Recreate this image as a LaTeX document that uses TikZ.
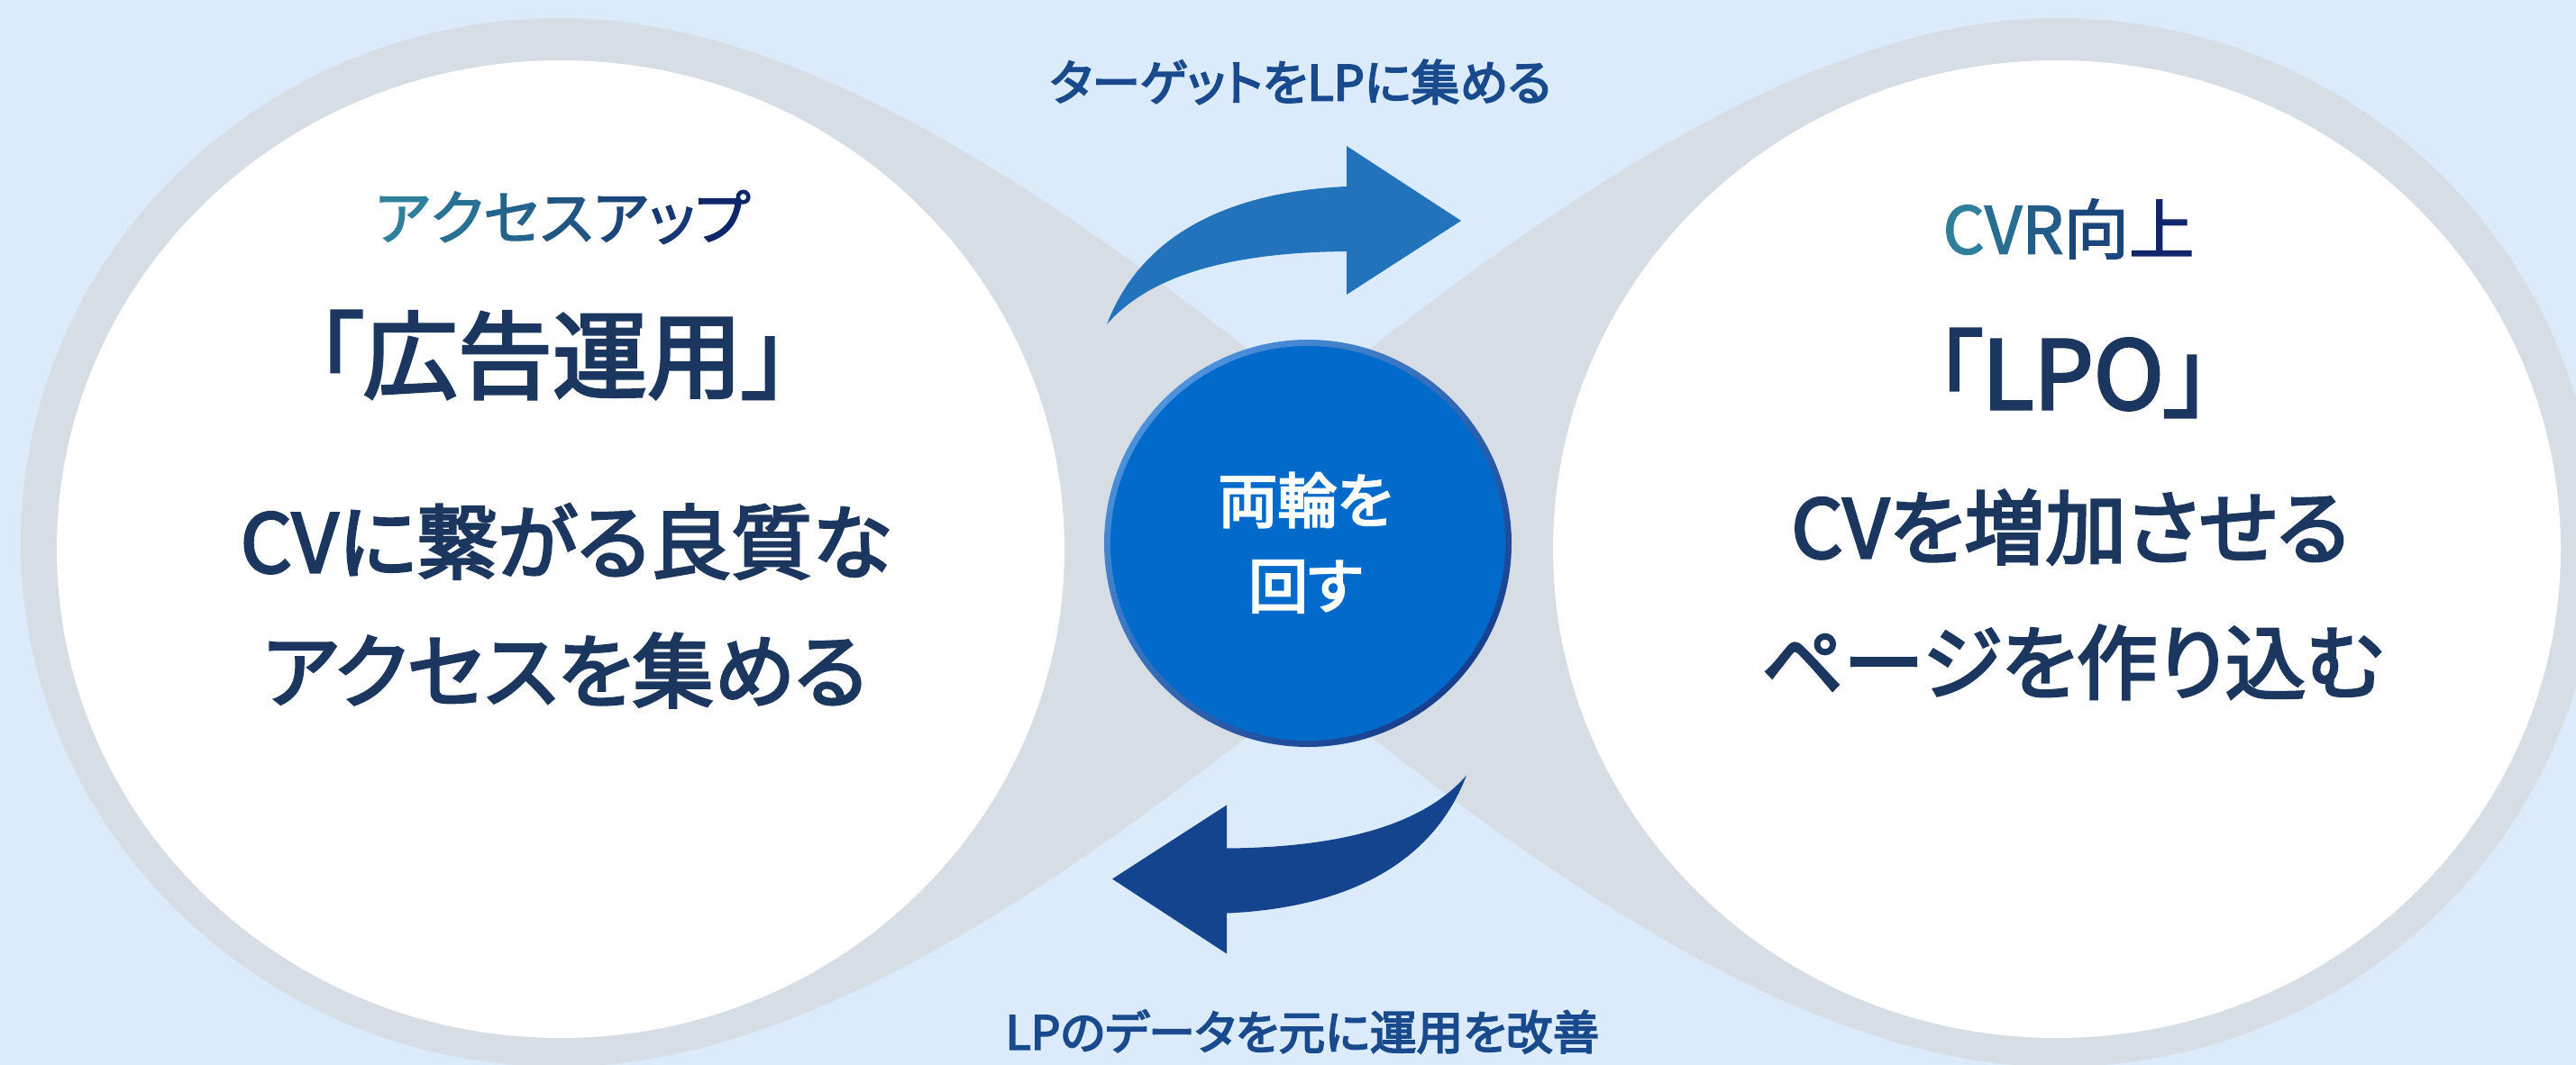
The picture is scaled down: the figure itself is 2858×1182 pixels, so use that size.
\documentclass[tikz,border=0pt]{standalone}
\usepackage{fontspec}
\setmainfont{Noto Sans CJK JP}[RawFeature=+palt]
\newfontfamily\lightmedfont{Noto Sans CJK JP}[RawFeature=+palt, FakeBold=2]
\newfontfamily\medfont{Noto Sans CJK JP}[RawFeature=+palt, FakeBold=3]
\newfontfamily\semiboldfont{Noto Sans CJK JP}[RawFeature=+palt, FakeBold=3.5]
\definecolor{bgblue}{HTML}{DBEBFC}
\definecolor{ringgray}{HTML}{D6DDE4}
\definecolor{navytext}{HTML}{1B365F}
\definecolor{labeltext}{HTML}{1A4A8E}
\definecolor{arrowA}{HTML}{2272BC}
\definecolor{arrowB}{HTML}{15448F}
\definecolor{hubfill}{HTML}{016ACA}
\definecolor{hublight}{HTML}{4C92DC}
\definecolor{hubdark}{HTML}{173F8E}
\definecolor{subA}{HTML}{2E809C}
\definecolor{subB}{HTML}{10266A}
\newcommand\cyclearrowpath{(1228,360) .. controls (1270,250) and (1380,212) .. (1494,207) -- (1494,162) -- (1621,245) -- (1494,327) -- (1494,279) .. controls (1380,280) and (1280,300) .. (1228,360) -- cycle}
\tikzset{
  looptext/.style={inner sep=0pt, outer sep=0pt, text=labeltext, font=\fontsize{15.3}{18}\semiboldfont},
  subtext/.style={inner sep=0pt, outer sep=0pt, font=\fontsize{18.7}{22}\lightmedfont},
  titletext/.style={inner sep=0pt, outer sep=0pt, text=navytext, font=\fontsize{29.9}{34}\medfont},
  maintext/.style={inner sep=0pt, outer sep=0pt, text=navytext, font=\fontsize{25.6}{30}\medfont},
  hubtext/.style={inner sep=0pt, outer sep=0pt, text=white, font=\fontsize{18.8}{22}\semiboldfont},
}
\begin{document}
\begin{tikzpicture}[x=0.01cm,y=-0.01cm]
\useasboundingbox (0,0) rectangle (2858,1182);
\begin{scope}
\clip (0,0) rectangle (2858,1182);
\fill[bgblue] (0,0) rectangle (2858,1182);
% grey infinity ribbon
\fill[ringgray] (1451,440) .. controls (1201,240) and (900,20) .. (622,20)
  .. controls (291,20) and (23,283) .. (23,602)
  .. controls (23,921) and (291,1184) .. (622,1184)
  .. controls (900,1184) and (1201,964) .. (1451,764) -- cycle;
\fill[ringgray] (1453,440) .. controls (1703,240) and (2004,20) .. (2282,20)
  .. controls (2613,20) and (2881,283) .. (2881,602)
  .. controls (2881,921) and (2613,1184) .. (2282,1184)
  .. controls (2004,1184) and (1703,964) .. (1453,764) -- cycle;
% white discs
\fill[white] (622,609.5) ellipse [x radius=559, y radius=542.5];
\fill[white] (2282,609.5) ellipse [x radius=559, y radius=542.5];
% cycle arrows
\fill[arrowA] \cyclearrowpath;
\begin{scope}[rotate around={180:(1427.5,610.25)}]
\fill[arrowB] \cyclearrowpath;
\end{scope}
% hub
\shade[top color=hublight, bottom color=hubdark, shading angle=45] (1451,603) circle [radius=226];
\fill[hubfill] (1451,603) circle [radius=219];
\end{scope}
\node[hubtext] (hub1) at (1448,555) {両輪を};
\node[hubtext] (hub2) at (1448,651) {回す};
% loop labels
\node[looptext] (toplabel) at (1443,91) {ターゲットをLPに集める};
\node[looptext, font=\fontsize{14.7}{18}\semiboldfont] (bottomlabel) at (1445,1145) {LPのデータを元に運用を改善};
% left disc
\node[subtext] (leftsub) at (624,241) {\textcolor{subA}{ア}\textcolor{subA!84!subB}{ク}\textcolor{subA!68!subB}{セ}\textcolor{subA!52!subB}{ス}\textcolor{subA!36!subB}{ア}\textcolor{subA!20!subB}{ッ}\textcolor{subB}{プ}};
\node[titletext] (lefttitle) at (613,394) {「広告運用」};
\node[maintext] (leftmain1) at (628,601) {CVに繋がる良質な};
\node[maintext] (leftmain2) at (627,744) {アクセスを集める};
% right disc
\node[subtext, font=\fontsize{20.6}{24}\lightmedfont] (rightsub) at (2295,254) {\textcolor{subA}{C}\textcolor{subA!80!subB}{V}\textcolor{subA!60!subB}{R}\textcolor{subA!35!subB}{向}\textcolor{subB}{上}};
\node[titletext] (righttitle) at (2300,414) {「LPO」};
\node[maintext] (rightmain1) at (2297,585) {CVを増加させる};
\node[maintext] (rightmain2) at (2299,735) {ページを作り込む};
\end{tikzpicture}
\end{document}
